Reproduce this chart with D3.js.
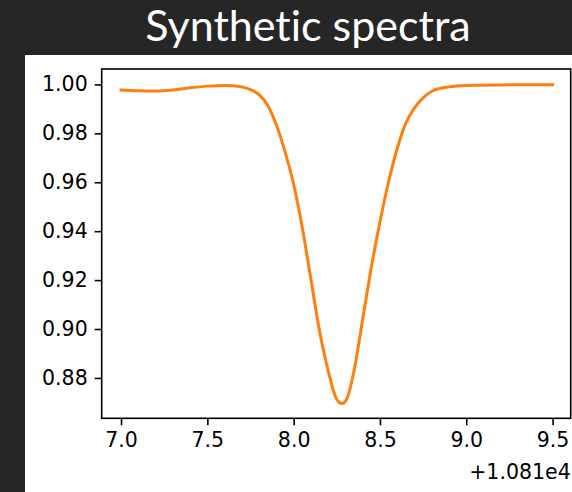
<!DOCTYPE html>
<html>
<head>
<meta charset="utf-8">
<script src="https://cdn.jsdelivr.net/npm/d3@7"></script>
<style>
  html, body { margin: 0; padding: 0; background: #262626; }
  svg { display: block; }
</style>
</head>
<body>
<script>
// wavelength (offset from 10810) and normalised flux
var waveOffset = 10810;
var wave = [7.00, 7.10, 7.20, 7.30, 7.40, 7.50, 7.60, 7.65, 7.70, 7.75, 7.80, 7.85, 7.90, 7.95,
            8.00, 8.05, 8.10, 8.15, 8.20, 8.25, 8.28, 8.31, 8.35, 8.40, 8.45, 8.50, 8.55, 8.60,
            8.65, 8.70, 8.75, 8.80, 8.90, 9.00, 9.20, 9.50].map(function(d) { return d + waveOffset; });
var flux = [0.9977, 0.9974, 0.9973, 0.9977, 0.9986, 0.9993, 0.9996, 0.9995, 0.9990, 0.9979, 0.9958, 0.9914, 0.9834, 0.9725,
            0.9592, 0.9415, 0.9203, 0.8992, 0.8830, 0.8712, 0.8695, 0.8718, 0.8830, 0.9040, 0.9252, 0.9438, 0.9602, 0.9738,
            0.9842, 0.9904, 0.9945, 0.9972, 0.9990, 0.9996, 0.9998, 0.9999];
var xTicks = [7.0, 7.5, 8.0, 8.5, 9.0, 9.5].map(function(d) { return d + waveOffset; });
var yTicks = [0.88, 0.90, 0.92, 0.94, 0.96, 0.98, 1.00];
var title = 'Synthetic spectra';
var offsetLabel = '+1.081e4';

var width = 572, height = 492;
var panel = {x: 25, y: 55};
var ax = {left: 101.7, right: 570.7, top: 69, bottom: 418.3};
var lineColor = '#ff7f0e';
var tickFont = 'DejaVu Sans';
var tickSize = 20.5;

var svg = d3.select('body')
  .append('svg')
    .attr('width', width)
    .attr('height', height);

svg.append('rect')
    .attr('width', width)
    .attr('height', height)
    .attr('fill', '#262626');

svg.append('text')
    .attr('x', 308)
    .attr('y', 41)
    .attr('text-anchor', 'middle')
    .attr('fill', '#ffffff')
    .style('font-family', 'Lato, "Open Sans", sans-serif')
    .style('font-size', '43px')
    .style('font-variant-ligatures', 'none')
    .text(title);

// white figure area
svg.append('rect')
    .attr('x', panel.x)
    .attr('y', panel.y)
    .attr('width', width - panel.x)
    .attr('height', height - panel.y)
    .attr('fill', '#ffffff');

var x = d3.scaleLinear()
  .domain([6.888 + waveOffset, 9.605 + waveOffset])
  .range([ax.left, ax.right]);
var y = d3.scaleLinear()
  .domain([0.8635, 1.0063])
  .range([ax.bottom, ax.top]);

// the spectrum
var line = d3.line()
  .x(function(d, i) { return x(wave[i]); })
  .y(function(d) { return y(d); })
  .curve(d3.curveMonotoneX);

svg.append('path')
    .datum(flux)
    .attr('d', line)
    .attr('fill', 'none')
    .attr('stroke', lineColor)
    .attr('stroke-width', 3)
    .attr('stroke-linejoin', 'round')
    .attr('stroke-linecap', 'square');

// axes
var xAxis = svg.append('g')
    .attr('transform', 'translate(0,' + ax.bottom + ')')
    .call(d3.axisBottom(x)
      .tickValues(xTicks)
      .tickSize(7)
      .tickPadding(7)
      .tickFormat(function(d) { return (d - waveOffset).toFixed(1); }));

var yAxis = svg.append('g')
    .attr('transform', 'translate(' + ax.left + ',0)')
    .call(d3.axisLeft(y)
      .tickValues(yTicks)
      .tickSize(7)
      .tickPadding(7)
      .tickFormat(function(d) { return d.toFixed(2); }));

[xAxis, yAxis].forEach(function(g) {
  g.select('.domain').remove();
  g.selectAll('line').attr('stroke', '#000').attr('stroke-width', 1.6);
  g.selectAll('text')
    .attr('fill', '#000')
    .style('font-family', tickFont)
    .style('font-size', tickSize + 'px');
});

// frame
svg.append('rect')
    .attr('x', ax.left)
    .attr('y', ax.top)
    .attr('width', ax.right - ax.left)
    .attr('height', ax.bottom - ax.top)
    .attr('fill', 'none')
    .attr('stroke', '#000')
    .attr('stroke-width', 1.6);

svg.append('text')
    .attr('x', ax.right)
    .attr('y', 479)
    .attr('text-anchor', 'end')
    .attr('fill', '#000')
    .style('font-family', tickFont)
    .style('font-size', tickSize + 'px')
    .text(offsetLabel);
</script>
</body>
</html>
